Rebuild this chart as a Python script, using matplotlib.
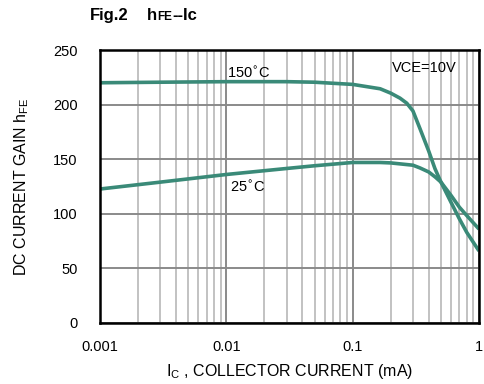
import matplotlib
matplotlib.use("Agg")
import matplotlib.pyplot as plt
from matplotlib.ticker import LogLocator, NullFormatter

plt.rcParams['font.family'] = ['Liberation Sans', 'DejaVu Sans']

# Data
ic_150 = [0.001, 0.003, 0.01, 0.03, 0.05, 0.1, 0.165, 0.2, 0.237, 0.268, 0.3, 0.341, 0.4, 0.448, 0.5, 0.6, 0.7, 0.8, 1.0]
hfe_150 = [220, 220.5, 221, 221, 220.5, 218.5, 214.5, 210.5, 205.9, 201.3, 194.2, 178, 157.4, 141.4, 129, 110.6, 95.3, 83, 66]

ic_25 = [0.001, 0.003, 0.01, 0.03, 0.05, 0.1, 0.165, 0.2, 0.3, 0.341, 0.4, 0.45, 0.5, 0.6, 0.7, 0.8, 1.0]
hfe_25 = [122.7, 129, 136, 141.5, 144, 147, 147, 146.6, 144.5, 142, 138.3, 133.7, 129, 116.9, 106, 98.4, 86]

x_ticks = [0.001, 0.01, 0.1, 1]
x_tick_labels = ['0.001', '0.01', '0.1', '1']
y_ticks = [0, 50, 100, 150, 200, 250]

line_color = '#3a8a78'

fig = plt.figure(figsize=(4.85, 3.84), dpi=100)
ax = fig.add_axes([100/485, 1 - 323/384, 379/485, 273/384])

ax.set_xscale('log')
ax.set_xlim(0.001, 1)
ax.set_ylim(0, 250)

# grid
ax.xaxis.set_minor_locator(LogLocator(base=10, subs=range(2, 10)))
ax.xaxis.set_minor_formatter(NullFormatter())
ax.grid(which='minor', axis='x', color='#bdbdbd', lw=1.3)
ax.grid(which='major', axis='x', color='#8a8a8a', lw=1.4)
ax.grid(which='major', axis='y', color='#8a8a8a', lw=1.4)
ax.set_axisbelow(True)

ax.set_xticks(x_ticks)
ax.set_xticklabels(x_tick_labels)
ax.set_yticks(y_ticks)
ax.tick_params(which='both', length=0, labelsize=10.5, pad=12)
ax.tick_params(axis='y', pad=16)

for s in ax.spines.values():
    s.set_linewidth(1.8)
    s.set_color('black')

ax.plot(ic_150, hfe_150, color=line_color, lw=2.6, solid_capstyle='butt', solid_joinstyle='round')
ax.plot(ic_25, hfe_25, color=line_color, lw=2.6, solid_capstyle='butt', solid_joinstyle='round')

ax.text(0.0101, 229, '150$^{\\circ}$C', fontsize=10.5, ha='left', va='center')
ax.text(0.0107, 124.5, '25$^{\\circ}$C', fontsize=10.5, ha='left', va='center')
ax.text(0.205, 233.5, 'VCE=10V', fontsize=10.5, ha='left', va='center')

# axis labels
ax.set_xlabel('I$\\mathregular{_C}$ , COLLECTOR CURRENT (mA)', fontsize=11.5, labelpad=6)
ax.set_ylabel('DC CURRENT GAIN h$\\mathregular{_{FE}}$', fontsize=11.5, labelpad=16)

# title
fig.text(90/485, 1 - 20/384, 'Fig.2', fontsize=12, fontweight='bold', ha='left', va='baseline')
fig.text(147/485, 1 - 20/384, 'h', fontsize=12, fontweight='bold', ha='left', va='baseline')
fig.text(157/485, 1 - 20/384, 'FE', fontsize=8.5, fontweight='bold', ha='left', va='baseline')
fig.text(172/485, 1 - 20/384, '--Ic', fontsize=12, fontweight='bold', ha='left', va='baseline')

fig.savefig('out.png', dpi=100)
